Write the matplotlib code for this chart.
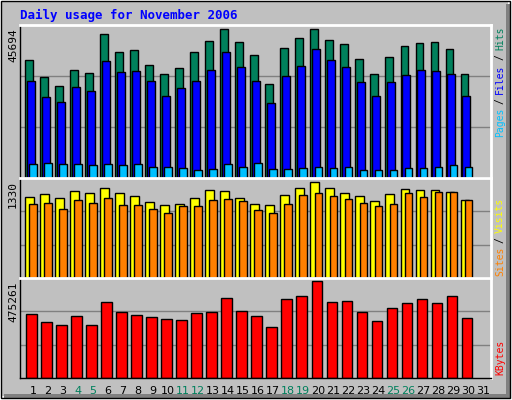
import matplotlib.pyplot as plt
import numpy as np

days = np.arange(1, 32)
weekend = [4, 5, 11, 12, 18, 19, 25, 26]

# values
hits = [36200, 31000, 28300, 33100, 32100, 44300, 38500, 39200, 34800, 31800, 33800, 38500, 42100, 45700, 41700, 37600, 28800, 39900, 43000, 45694, 42400, 41100, 36500, 31800, 37100, 40500, 41500, 41800, 39500, 31800]
files = [29900, 24700, 23200, 28000, 26700, 35900, 32500, 32800, 29700, 25000, 27700, 29900, 33100, 38500, 34200, 29900, 22900, 31200, 34500, 39500, 36200, 34200, 29600, 25000, 29500, 31500, 33100, 32800, 31800, 25000]
pages = [4200, 4500, 4200, 4200, 3900, 4200, 3900, 4200, 3500, 3500, 3200, 2600, 2900, 4200, 3500, 4500, 2900, 2900, 3200, 3500, 3200, 3500, 2600, 2600, 2600, 3200, 3200, 3500, 3900, 3500]
visits = [1131, 1166, 1119, 1213, 1189, 1260, 1177, 1142, 1060, 1013, 1037, 1107, 1225, 1213, 1119, 1037, 1013, 1154, 1248, 1330, 1248, 1177, 1142, 1072, 1166, 1236, 1225, 1225, 1201, 1084]
sites = [1037, 1049, 966, 1084, 1049, 1107, 1013, 1013, 966, 907, 1002, 1002, 1084, 1096, 1072, 943, 907, 1025, 1154, 1189, 1142, 1096, 1049, 1002, 1037, 1177, 1131, 1201, 1201, 1084]
kbytes = [314400, 272800, 262400, 304000, 262400, 371600, 325100, 309500, 299100, 288700, 283500, 319700, 325100, 392400, 330200, 304000, 252000, 387200, 402800, 475261, 371600, 376800, 325100, 278500, 345800, 366400, 387200, 366400, 402800, 293900]

BG = '#C0C0C0'
fig = plt.figure(figsize=(5.12, 4.0), dpi=100, facecolor='white')
W, H = 512, 400


def px_axes(x0, y0, x1, y1):
    ax = fig.add_axes([x0 / W, 1 - y1 / H, (x1 - x0) / W, (y1 - y0) / H])
    ax.set_facecolor(BG)
    for s in ax.spines.values():
        s.set_color('black')
        s.set_linewidth(1)
    ax.spines['top'].set_color('white')
    ax.spines['right'].set_color('white')
    ax.spines['top'].set_linewidth(2)
    ax.spines['right'].set_linewidth(2)
    ax.set_xticks([])
    ax.set_yticks([])
    return ax


# background panel with shadow
bg = fig.add_axes([0, 0, 1, 1])
bg.set_xlim(0, W)
bg.set_ylim(H, 0)
bg.axis('off')
bg.add_patch(plt.Rectangle((2, 2), W - 6, H - 6, facecolor=BG, edgecolor='none'))
bg.add_patch(plt.Rectangle((W - 6, 4), 4, H - 6, facecolor='#808080'))
bg.add_patch(plt.Rectangle((4, H - 6), W - 6, 4, facecolor='#808080'))
bg.add_patch(plt.Rectangle((1, 1), W - 3, H - 3, fill=False, edgecolor='black', lw=1))

xl = (0.647, 32.03)
x = np.array(days[:len(hits)])

a1 = px_axes(20, 25, 491, 178)
a1.set_xlim(*xl)
top1 = 45694 * 151.7 / 147.7
a1.set_ylim(0, top1)
for g in (top1 / 3, 2 * top1 / 3):
    a1.axhline(g, color='#808080', lw=1, zorder=0)
a1.bar(x, hits, 0.49, align='edge', color='#00805C', edgecolor='black', lw=1, zorder=2)
a1.bar(x + 0.11, files, 0.51, align='edge', color='#0000FF', edgecolor='black', lw=1, zorder=3)
a1.bar(x + 0.27, pages, 0.49, align='edge', color='#00C0FF', edgecolor='black', lw=1, zorder=4)

a2 = px_axes(20, 178, 491, 278)
a2.set_xlim(*xl)
top2 = 1330 * 290 / 277
a2.set_ylim(0, top2)
for g in (top2 / 3, 2 * top2 / 3):
    a2.axhline(g, color='#808080', lw=1, zorder=0)
a2.bar(x, visits, 0.56, align='edge', color='#FFFF00', edgecolor='black', lw=1, zorder=2)
a2.bar(x + 0.27, sites, 0.49, align='edge', color='#FF8000', edgecolor='black', lw=1, zorder=3)

a3 = px_axes(20, 278, 491, 378)
a3.set_xlim(*xl)
top3 = 475261 * 283 / 274
a3.set_ylim(0, top3)
for g in (top3 / 3, 2 * top3 / 3):
    a3.axhline(g, color='#808080', lw=1, zorder=0)
a3.bar(x + 0.07, kbytes, 0.69, align='edge', color='#FF0000', edgecolor='black', lw=1, zorder=2)
a3.set_xticks(days + 0.51)
a3.set_xticklabels([str(d) for d in days], fontsize=8, family='DejaVu Sans')
a3.tick_params(axis='x', length=0, pad=6)
for t, d in zip(a3.get_xticklabels(), days):
    t.set_color('#00805C' if d in weekend else 'black')

mono = 'DejaVu Sans Mono'
fig.text(20 / W, 1 - 15 / H, 'Daily usage for November 2006', color='#0000FF',
         fontsize=9, fontweight='bold', family=mono, va='center')
fig.text(13 / W, 1 - 28 / H, '45694', rotation=90, fontsize=8, va='top', ha='center', family=mono)
fig.text(13 / W, 1 - 181 / H, '1330', rotation=90, fontsize=8, va='top', ha='center', family=mono)
fig.text(13 / W, 1 - 281 / H, '475261', rotation=90, fontsize=8, va='top', ha='center', family=mono)

renderer = fig.canvas.get_renderer()


# right side labels (stacked bottom-to-top, measured)
def right_label(parts, y_bottom):
    y = y_bottom
    for txt, col in parts:
        t = fig.text(500 / W, 1 - y / H, txt, rotation=90, color=col, fontsize=7,
                     family=mono, ha='center', va='bottom')
        y -= t.get_window_extent(renderer).height + 4

right_label([('Pages', '#00C0FF'), ('/', 'black'), ('Files', '#0000FF'),
             ('/', 'black'), ('Hits', '#00805C')], 137)
right_label([('Sites', '#FF8000'), ('/', 'black'), ('Visits', '#FFFF00')], 276)
right_label([('KBytes', '#FF0000')], 375)

fig.savefig('out.png', dpi=100, facecolor='white')
